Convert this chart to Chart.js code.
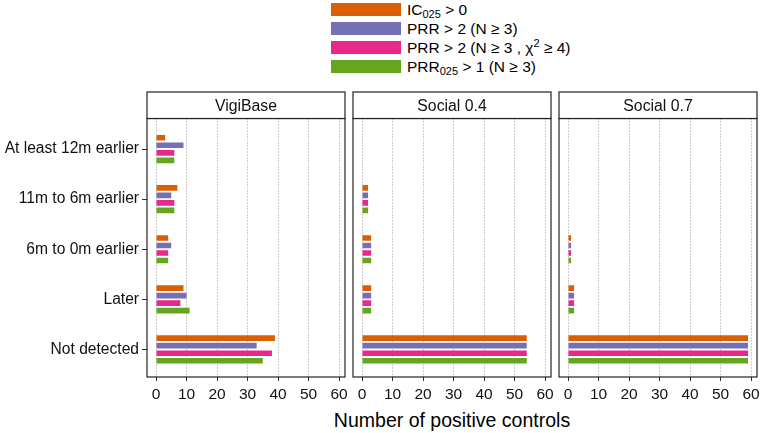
<!DOCTYPE html>
<html lang="en">
<head>
    <meta charset="UTF-8">
    <title>Positive controls by detection time</title>
    <script src="https://cdn.jsdelivr.net/npm/chart.js"></script>
    <style>
        body { margin: 0; background: #fff; font-family: "Liberation Sans", Arial, sans-serif; }
        #wrap { position: relative; width: 761px; height: 433px; overflow: hidden; }
        canvas { position: absolute; }
        #legend { position: absolute; left: 331px; top: 0px; }
        .row { height: 19px; display: flex; align-items: center; font-size: 15.5px; color: #000; white-space: nowrap; }
        .box { width: 70px; height: 12.5px; margin-right: 6px; }
        sub, sup { font-size: 11px; }
        sub { vertical-align: -3px; line-height: 0; }
        sup { vertical-align: 6px; line-height: 0; }
        #xtitle { position: absolute; left: 147px; width: 610px; top: 409px; text-align: center; font-size: 19.5px; color: #000; }
    </style>
</head>
<body>
<div id="wrap">
    <div id="legend"></div>
    <div id="xtitle">Number of positive controls</div>
</div>

<script>
    // categories (top to bottom) and facets
    const categories = ['At least 12m earlier', '11m to 6m earlier', '6m to 0m earlier', 'Later', 'Not detected'];
    const panelNames = ['VigiBase', 'Social 0.4', 'Social 0.7'];

    // series labels (with sub/superscripts) and colours
    const seriesLabels = [
        'IC<sub>025</sub> &gt; 0',
        'PRR &gt; 2 (N &ge; 3)',
        'PRR &gt; 2 (N &ge; 3 , &chi;<sup>2</sup> &ge; 4)',
        'PRR<sub>025</sub> &gt; 1 (N &ge; 3)'
    ];
    const seriesColors = ['#D95F02', '#7570B3', '#E7298A', '#66A61E'];

    // VigiBase
    const vigiIc025 = [3, 7, 4, 9, 39];
    const vigiPrr = [9, 5, 5, 10, 33];
    const vigiPrrChi = [6, 6, 4, 8, 38];
    const vigiPrr025 = [6, 6, 4, 11, 35];

    // Social 0.4
    const soc4Ic025 = [0, 2, 3, 3, 54];
    const soc4Prr = [0, 2, 3, 3, 54];
    const soc4PrrChi = [0, 2, 3, 3, 54];
    const soc4Prr025 = [0, 2, 3, 3, 54];

    // Social 0.7
    const soc7Ic025 = [0, 0, 1, 2, 59];
    const soc7Prr = [0, 0, 1, 2, 59];
    const soc7PrrChi = [0, 0, 1, 2, 59];
    const soc7Prr025 = [0, 0, 1, 2, 59];

    const xTicks = [0, 10, 20, 30, 40, 50, 60];

    const panelData = [
        [vigiIc025, vigiPrr, vigiPrrChi, vigiPrr025],
        [soc4Ic025, soc4Prr, soc4PrrChi, soc4Prr025],
        [soc7Ic025, soc7Prr, soc7PrrChi, soc7Prr025]
    ];

    // legend
    const legend = document.getElementById('legend');
    seriesLabels.forEach((lab, i) => {
        const row = document.createElement('div');
        row.className = 'row';
        row.innerHTML = '<div class="box" style="background:' + seriesColors[i] + '"></div><span>' + lab + '</span>';
        legend.appendChild(row);
    });

    const FONT = '"Liberation Sans", Arial, sans-serif';
    const panelLefts = [147, 353, 559];
    const panelW = 198;
    const pad = 12;
    const canvasTop = 90;
    const canvasH = 330;

    // frame + strip header
    const framePlugin = {
        id: 'frame',
        afterDraw(chart, args, opts) {
            const { ctx, chartArea: a } = chart;
            ctx.save();
            ctx.strokeStyle = '#222';
            ctx.lineWidth = 1.2;
            ctx.strokeRect(a.left, a.top, a.right - a.left, a.bottom - a.top);
            const stripTop = a.top - 26.5;
            ctx.fillStyle = '#fff';
            ctx.fillRect(a.left, stripTop, a.right - a.left, a.top - stripTop);
            ctx.strokeRect(a.left, stripTop, a.right - a.left, a.top - stripTop);
            ctx.fillStyle = '#111';
            ctx.font = '15.8px ' + FONT;
            ctx.textAlign = 'center';
            ctx.textBaseline = 'middle';
            ctx.fillText(opts.title, (a.left + a.right) / 2, (stripTop + a.top) / 2 + 1);
            ctx.restore();
        }
    };

    const wrap = document.getElementById('wrap');

    panelNames.forEach((name, p) => {
        const first = p === 0;
        const cLeft = first ? 0 : panelLefts[p] - pad;
        const cW = first ? panelLefts[0] + panelW + pad : panelW + 2 * pad;
        const canvas = document.createElement('canvas');
        canvas.width = cW;
        canvas.height = canvasH;
        canvas.style.left = cLeft + 'px';
        canvas.style.top = canvasTop + 'px';
        wrap.appendChild(canvas);

        new Chart(canvas, {
            type: 'bar',
            data: {
                datasets: panelData[p].map((vals, s) => ({
                    label: seriesLabels[s],
                    data: vals.map((v, i) => ({ x: v, y: i })),
                    backgroundColor: seriesColors[s],
                    borderWidth: 0,
                    categoryPercentage: 0.6,
                    barPercentage: 0.75
                }))
            },
            options: {
                indexAxis: 'y',
                responsive: false,
                animation: false,
                layout: { padding: { left: first ? 0 : pad, right: pad, top: 28.5, bottom: 9 } },
                plugins: {
                    legend: { display: false },
                    tooltip: { enabled: false },
                    frame: { title: name }
                },
                scales: {
                    x: {
                        type: 'linear',
                        min: -2.95,
                        max: 61.95,
                        afterBuildTicks: (s) => { s.ticks = xTicks.map(v => ({ value: v })); },
                        afterFit: (s) => { s.height = 34; },
                        ticks: { font: { family: FONT, size: 15.5 }, color: '#111', padding: 4, maxRotation: 0 },
                        grid: {
                            color: '#9a9a9a', lineWidth: 1, drawTicks: true, tickLength: 4,
                            tickColor: '#333', tickBorderDash: []
                        },
                        border: { display: false, dash: [1, 2] }
                    },
                    y: {
                        type: 'linear',
                        display: first,
                        reverse: true,
                        offset: false,
                        min: -0.61,
                        max: 4.55,
                        afterBuildTicks: (s) => { s.ticks = categories.map((c, i) => ({ value: i })); },
                        afterFit: (s) => { if (first) s.width = panelLefts[0]; },
                        ticks: {
                            font: { family: FONT, size: 15.6 }, color: '#111', padding: 3,
                            callback: (v) => categories[v]
                        },
                        grid: { offset: false, drawOnChartArea: false, drawTicks: true, tickLength: 5, tickColor: '#333' },
                        border: { display: false }
                    }
                }
            },
            plugins: [framePlugin]
        });
    });
</script>
</body>
</html>
